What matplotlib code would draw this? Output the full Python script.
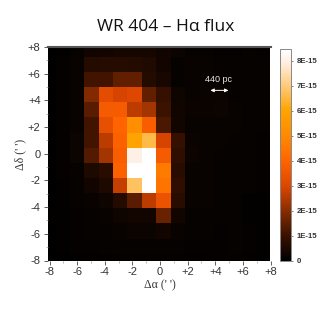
import matplotlib
matplotlib.use("Agg")
import matplotlib.pyplot as plt
import numpy as np
from matplotlib.colors import LinearSegmentedColormap
from matplotlib.ticker import MultipleLocator

SIZE = 327

# flux per cell, units of 1E-15, top row first
flux = [
    [0.00, 0.05, 0.12, 0.28, 0.30, 0.38, 0.38, 0.38, 0.28, 0.22, 0.12, 0.12, 0.08, 0.08, 0.10, 0.08],
    [0.00, 0.08, 0.15, 0.60, 0.65, 0.65, 0.60, 0.55, 0.30, 0.10, 0.15, 0.15, 0.10, 0.12, 0.12, 0.10],
    [0.00, 0.08, 0.15, 1.10, 1.10, 1.50, 1.50, 0.60, 0.40, 0.12, 0.15, 0.15, 0.12, 0.10, 0.12, 0.12],
    [0.02, 0.08, 0.15, 1.90, 3.20, 2.90, 3.00, 1.50, 0.90, 0.25, 0.15, 0.18, 0.18, 0.12, 0.12, 0.10],
    [0.02, 0.08, 0.15, 1.40, 3.70, 3.70, 2.60, 2.30, 1.00, 0.28, 0.18, 0.18, 0.20, 0.15, 0.12, 0.10],
    [0.02, 0.08, 0.15, 1.10, 3.30, 4.00, 5.20, 3.80, 1.20, 0.30, 0.15, 0.15, 0.15, 0.15, 0.12, 0.10],
    [0.02, 0.08, 0.22, 1.10, 2.60, 3.90, 6.00, 6.60, 2.90, 0.90, 0.18, 0.15, 0.15, 0.12, 0.10, 0.08],
    [0.02, 0.08, 0.20, 1.30, 2.30, 3.80, 8.00, 8.60, 3.70, 0.80, 0.20, 0.15, 0.12, 0.12, 0.10, 0.08],
    [0.02, 0.08, 0.12, 0.50, 0.70, 3.90, 8.60, 8.60, 4.60, 0.70, 0.15, 0.15, 0.12, 0.10, 0.12, 0.08],
    [0.02, 0.05, 0.10, 0.30, 0.50, 2.70, 6.80, 8.60, 4.40, 0.80, 0.15, 0.15, 0.12, 0.10, 0.12, 0.08],
    [0.02, 0.05, 0.10, 0.15, 0.25, 0.60, 1.40, 2.60, 3.40, 0.70, 0.15, 0.15, 0.12, 0.10, 0.05, 0.05],
    [0.05, 0.05, 0.08, 0.10, 0.15, 0.25, 0.30, 0.30, 1.60, 0.30, 0.12, 0.12, 0.10, 0.10, 0.05, 0.05],
    [0.02, 0.05, 0.08, 0.10, 0.12, 0.15, 0.20, 0.20, 0.30, 0.15, 0.12, 0.10, 0.08, 0.10, 0.08, 0.05],
    [0.02, 0.05, 0.08, 0.08, 0.10, 0.10, 0.12, 0.12, 0.12, 0.12, 0.08, 0.08, 0.08, 0.10, 0.08, 0.05],
    [0.02, 0.02, 0.05, 0.05, 0.05, 0.08, 0.08, 0.08, 0.08, 0.08, 0.05, 0.05, 0.08, 0.08, 0.05, 0.05],
]
cbar_ticks = [0, 1, 2, 3, 4, 5, 6, 7, 8]
cbar_labels = ["0", "1E-15", "2E-15", "3E-15", "4E-15", "5E-15", "6E-15", "7E-15", "8E-15"]
offset_ticks = [-8, -6, -4, -2, 0, 2, 4, 6, 8]
offset_labels = ["-8", "-6", "-4", "-2", "0", "+2", "+4", "+6", "+8"]

cmap = LinearSegmentedColormap.from_list(
    "flux",
    [
        (0.00, "#000000"),
        (0.12, "#3c1200"),
        (0.24, "#8c2e00"),
        (0.35, "#dc4600"),
        (0.47, "#ff6400"),
        (0.59, "#ff8a00"),
        (0.71, "#ffa400"),
        (0.83, "#ffcc80"),
        (0.94, "#fff0e6"),
        (1.00, "#ffffff"),
    ],
)


def px_axes(fig, left, top, right, bottom):
    return fig.add_axes([left / SIZE, 1 - bottom / SIZE, (right - left) / SIZE, (bottom - top) / SIZE])


fig = plt.figure(figsize=(SIZE / 100, SIZE / 100), dpi=100)
ax = px_axes(fig, 47.5, 47, 270.5, 260.5)

values = np.array(flux)
x_edges = -8.6 + 1.04 * np.arange(values.shape[1] + 1)
y_edges = 8.4 - 1.135 * np.arange(values.shape[0] + 1)
mesh = ax.pcolormesh(x_edges, y_edges, values, cmap=cmap, vmin=0, vmax=8.5, linewidth=0, rasterized=True)
ax.set_xlim(-8.15, 8)
ax.set_ylim(-8, 8)

sans = "Liberation Sans"
serif = "Liberation Serif"
ax.set_xticks(offset_ticks, offset_labels, fontfamily=sans, fontsize=8, color="#333333")
ax.set_yticks(offset_ticks, offset_labels, fontfamily=sans, fontsize=8, color="#333333")
ax.xaxis.set_minor_locator(MultipleLocator(1))
ax.yaxis.set_minor_locator(MultipleLocator(1))
ax.tick_params(which="major", length=3, width=0.6, color="#444444", pad=2)
ax.tick_params(which="minor", length=1.5, width=0.5, color="#999999")
for name, spine in ax.spines.items():
    spine.set_visible(name == "top")
ax.spines["top"].set_color("#555555")
ax.spines["top"].set_linewidth(1.5)

fig.text(160 / SIZE, 1 - 285 / SIZE, "\u0394\u03b1 (' ')", family=serif, fontsize=8.5, color="#333333", ha="center", va="center")
fig.text(20 / SIZE, 1 - 154 / SIZE, "\u0394\u03b4 (' ')", family=serif, fontsize=8.5, color="#333333", ha="center", va="center", rotation=90)
fig.text(166 / SIZE, 1 - 27 / SIZE, "WR 404 \u2013 H\u03b1 flux", family="Open Sans", fontsize=12.5, color="#111111", ha="center", va="center")

ax.text(4.2, 5.6, "440 pc", family=sans, fontsize=6.5, color="#e8e8e8", ha="center", va="center")
ax.annotate("", xy=(3.65, 4.75), xytext=(4.95, 4.75), arrowprops=dict(arrowstyle="<|-|>", color="white", lw=0.7, mutation_scale=5, shrinkA=0, shrinkB=0))

cax = px_axes(fig, 279.5, 48.5, 290.5, 260.5)
cbar = fig.colorbar(mesh, cax=cax)
cbar.set_ticks(cbar_ticks, labels=cbar_labels)
cbar.ax.tick_params(length=1.5, width=0.5, color="#555555", pad=3, labelsize=5.6, labelcolor="#333333")
for label in cbar.ax.get_yticklabels():
    label.set_family(sans)
    label.set_fontweight("bold")
cbar.outline.set_edgecolor("#888888")
cbar.outline.set_linewidth(0.7)

fig.savefig("out.png", dpi=100)
